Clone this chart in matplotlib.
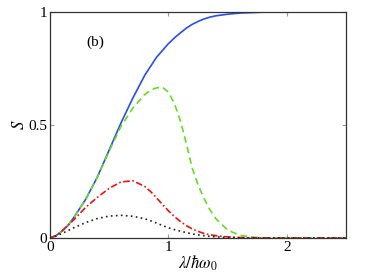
import matplotlib.pyplot as plt
import numpy as np

plt.rcParams['font.family'] = 'Liberation Serif'
plt.rcParams['mathtext.fontset'] = 'stix'

# values
x = np.array([0, 0.05, 0.1, 0.15, 0.2, 0.3, 0.4, 0.5, 0.6, 0.7, 0.8, 0.85, 0.9, 0.95,
              1.0, 1.05, 1.1, 1.15, 1.2, 1.25, 1.3, 1.35, 1.4, 1.5, 1.6, 1.7, 1.8,
              1.9, 2.0, 2.2, 2.5])
s_blue = np.array([0, 0.01, 0.03, 0.055, 0.09, 0.17, 0.27, 0.39, 0.51, 0.62, 0.72, 0.76,
                   0.80, 0.83, 0.86, 0.885, 0.907, 0.928, 0.945, 0.958, 0.969, 0.977,
                   0.983, 0.990, 0.995, 0.997, 0.999, 1.0, 1.0, 1.0, 1.0])
s_green = np.array([0, 0.01, 0.03, 0.055, 0.09, 0.17, 0.27, 0.385, 0.495, 0.575, 0.635, 0.655,
                    0.664, 0.667, 0.645, 0.595, 0.52, 0.42, 0.31, 0.235, 0.175, 0.125,
                    0.085, 0.035, 0.012, 0.004, 0.001, 0, 0, 0, 0])
s_red = np.array([0, 0.01, 0.03, 0.055, 0.08, 0.135, 0.18, 0.22, 0.248, 0.253, 0.228, 0.205,
                  0.177, 0.148, 0.12, 0.095, 0.073, 0.055, 0.04, 0.029, 0.02, 0.014,
                  0.01, 0.005, 0.002, 0.001, 0, 0, 0, 0, 0])
s_black = np.array([0, 0.008, 0.02, 0.032, 0.045, 0.068, 0.086, 0.097, 0.10, 0.096, 0.085,
                    0.076, 0.066, 0.055, 0.045, 0.037, 0.03, 0.024, 0.018, 0.014, 0.01,
                    0.007, 0.005, 0.002, 0.001, 0, 0, 0, 0, 0, 0])

fig = plt.figure(figsize=(3.82, 2.78), dpi=100)
ax = fig.add_axes([0.131, 0.144, 0.775, 0.813])

ax.plot(x, s_blue, color='#2a4cf0', lw=1.2)
ax.plot(x, s_green, color='#66dd22', lw=1.2, ls=(0, (4, 2.5)))
ax.plot(x, s_red, color='#ee1111', lw=1.2, ls=(0, (4, 1.5, 1, 1.5)))
ax.plot(x, s_black, color='#222222', lw=1.2, ls=(0, (1, 2)))

ax.set_xlim(0, 2.5)
ax.set_ylim(0, 1)
ax.set_xticks([0, 1, 2])
ax.set_xticklabels(['0', '1', '2'])
ax.set_yticks([0, 0.5, 1])
ax.set_yticklabels(['0', '0.5', '1'])
ax.tick_params(direction='in', top=True, right=True, labelsize=11, length=3,
               color='#999999', pad=2)
for sp in ax.spines.values():
    sp.set_color('#333333')
    sp.set_linewidth(0.9)

ax.set_xlabel(r'$\lambda/\hbar\omega_0$', fontsize=12, labelpad=0)
ax.set_ylabel(r'$S$', fontsize=12, labelpad=0)
ax.text(0.31, 0.85, '(b)', fontsize=11)

fig.savefig('out.png', dpi=100)
